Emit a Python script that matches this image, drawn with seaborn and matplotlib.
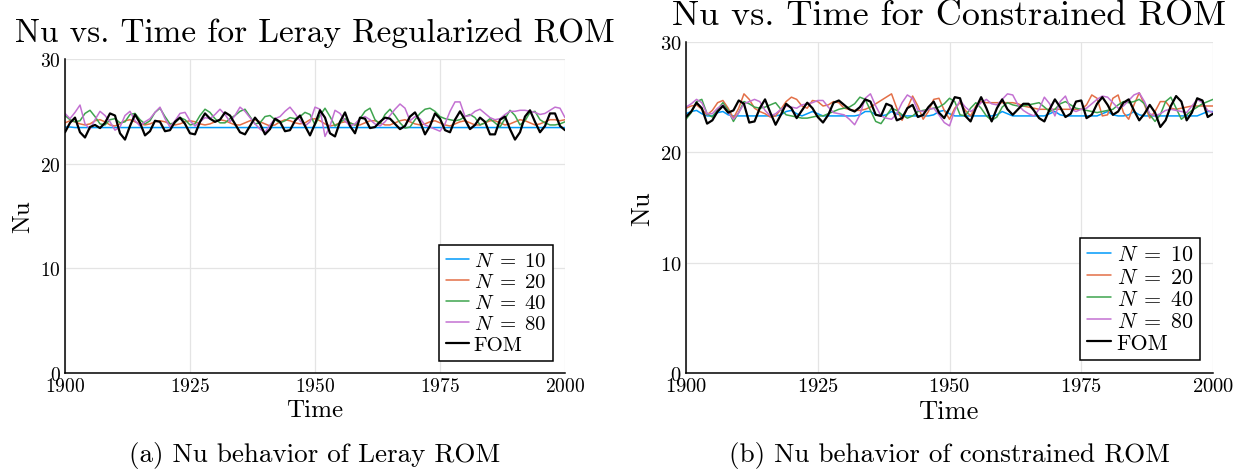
import matplotlib
matplotlib.use("Agg")
import matplotlib.pyplot as plt
import seaborn as sns
import pandas as pd

time = list(range(1900, 2001))

# ---------------- Leray regularized ROM ----------------
leray_n10 = [23.5, 23.5, 23.45, 23.45, 23.45, 23.45, 23.45, 23.45, 23.45, 23.45,
             23.45, 23.45, 23.45, 23.45, 23.45, 23.45, 23.45, 23.45, 23.45, 23.45,
             23.45, 23.45, 23.45, 23.45, 23.45, 23.45, 23.45, 23.45, 23.45, 23.45,
             23.45, 23.45, 23.45, 23.45, 23.45, 23.45, 23.45, 23.45, 23.45, 23.45,
             23.45, 23.45, 23.45, 23.45, 23.45, 23.45, 23.45, 23.45, 23.45, 23.45,
             23.45, 23.45, 23.45, 23.45, 23.45, 23.45, 23.45, 23.45, 23.45, 23.45,
             23.45, 23.45, 23.45, 23.45, 23.45, 23.45, 23.45, 23.45, 23.45, 23.45,
             23.45, 23.45, 23.45, 23.45, 23.45, 23.45, 23.45, 23.45, 23.45, 23.45,
             23.45, 23.45, 23.45, 23.45, 23.45, 23.45, 23.45, 23.45, 23.45, 23.45,
             23.45, 23.45, 23.45, 23.45, 23.45, 23.45, 23.45, 23.45, 23.45, 23.45,
             23.45]
leray_n20 = [23.9, 24.1, 24.0, 23.8, 23.7, 23.8, 24.1, 24.2, 24.0, 23.7,
             23.6, 23.8, 24.1, 24.2, 24.0, 23.8, 23.7, 23.8, 24.0, 24.1,
             24.0, 23.8, 23.7, 23.8, 24.0, 24.1, 24.0, 23.8, 23.7, 23.8,
             24.0, 24.2, 24.1, 23.9, 23.7, 23.7, 23.9, 24.1, 24.2, 24.0,
             23.8, 23.6, 23.7, 24.0, 24.2, 24.1, 23.9, 23.8, 23.9, 24.2,
             24.3, 24.1, 23.8, 23.6, 23.7, 23.9, 24.0, 23.9, 23.7, 23.7,
             23.9, 24.1, 24.1, 23.9, 23.7, 23.7, 23.9, 24.1, 24.2, 24.0,
             23.8, 23.7, 23.8, 24.0, 24.1, 23.9, 23.7, 23.6, 23.8, 24.0,
             24.1, 23.9, 23.7, 23.7, 23.9, 24.1, 24.1, 23.9, 23.7, 23.8,
             24.0, 24.2, 24.1, 23.9, 23.7, 23.8, 24.0, 24.2, 24.2, 24.1,
             24.2]
leray_n40 = [24.6, 24.2, 24.0, 24.1, 24.8, 25.1, 24.5, 23.8, 23.7, 24.2,
             24.3, 23.9, 24.0, 24.7, 24.8, 24.2, 23.8, 24.1, 24.9, 25.3,
             24.5, 23.8, 23.9, 24.4, 24.2, 23.7, 23.8, 24.6, 25.2, 24.9,
             24.3, 23.9, 23.9, 24.3, 24.6, 25.0, 25.2, 24.5, 23.8, 23.9,
             24.5, 24.6, 24.2, 23.9, 24.1, 24.4, 24.3, 24.5, 24.9, 24.7,
             23.7, 24.6, 25.3, 24.5, 23.6, 23.9, 24.3, 23.9, 23.7, 24.3,
             25.0, 25.3, 24.2, 23.8, 24.7, 25.2, 24.6, 23.9, 23.4, 23.5,
             24.2, 24.8, 25.2, 25.3, 25.0, 24.5, 24.3, 24.2, 24.1, 24.2,
             24.5, 24.7, 24.4, 23.7, 23.9, 24.3, 23.9, 23.5, 24.3, 25.1,
             24.6, 23.7, 24.1, 24.9, 25.0, 24.2, 23.9, 23.7, 23.7, 23.8,
             24.0]
leray_n80 = [24.8, 24.3, 24.9, 25.6, 23.8, 23.3, 24.2, 25.0, 24.6, 24.0,
             23.2, 23.5, 24.6, 25.0, 24.1, 23.6, 24.0, 24.3, 24.9, 25.4,
             24.3, 23.5, 24.1, 24.8, 24.9, 24.1, 23.6, 24.0, 24.4, 24.3,
             24.7, 25.2, 24.7, 24.0, 24.6, 25.4, 25.0, 24.4, 23.8, 23.3,
             23.0, 23.7, 24.3, 24.5, 25.0, 25.4, 24.8, 24.1, 23.6, 24.0,
             25.4, 25.2, 22.6, 23.6, 25.1, 24.8, 24.1, 23.6, 23.8, 24.3,
             24.5, 24.2, 23.8, 23.6, 24.0, 24.6, 25.2, 25.7, 25.3, 24.1,
             24.5, 24.3, 23.7, 23.5, 23.3, 23.1, 23.8, 25.0, 25.9, 25.9,
             24.5, 24.6, 25.0, 25.2, 24.8, 24.4, 24.2, 24.3, 24.7, 25.0,
             25.0, 25.1, 25.1, 25.0, 24.9, 24.7, 24.8, 25.1, 25.4, 25.3,
             24.4]
leray_fom = [23.0, 23.9, 24.4, 23.0, 22.5, 23.5, 23.7, 23.4, 23.9, 24.8,
             24.6, 22.9, 22.3, 23.6, 24.7, 23.9, 22.7, 23.1, 24.1, 24.0,
             23.1, 23.2, 24.0, 24.4, 23.8, 22.9, 22.8, 24.0, 24.8, 24.3,
             24.0, 24.2, 24.9, 24.6, 23.8, 23.0, 22.8, 23.6, 24.4, 23.8,
             22.8, 23.3, 24.3, 24.0, 23.1, 23.2, 24.1, 24.6, 23.6, 22.7,
             23.8, 25.1, 24.4, 22.9, 22.6, 24.0, 24.9, 23.6, 22.9, 24.4,
             24.3, 23.4, 23.5, 24.0, 24.4, 24.3, 23.8, 23.3, 23.6, 24.5,
             24.9, 24.0, 22.8, 23.6, 24.8, 24.3, 23.2, 23.0, 24.2, 25.0,
             24.2, 23.3, 23.7, 24.4, 24.0, 22.8, 22.8, 24.2, 24.5, 23.3,
             22.3, 23.0, 24.5, 25.1, 24.0, 23.0, 23.6, 24.8, 24.8, 23.6,
             23.2]

# ---------------- Constrained ROM ----------------
constr_n10 = [23.5, 23.7, 23.8, 23.5, 23.3, 23.3, 23.6, 23.7, 23.4, 23.3,
              23.3, 23.3, 23.3, 23.3, 23.3, 23.3, 23.3, 23.3, 23.4, 23.7,
              23.8, 23.5, 23.3, 23.5, 23.7, 23.5, 23.3, 23.3, 23.3, 23.3,
              23.3, 23.3, 23.3, 23.4, 23.7, 23.7, 23.4, 23.3, 23.4, 23.7,
              23.5, 23.3, 23.3, 23.3, 23.3, 23.3, 23.3, 23.4, 23.7, 23.8,
              23.5, 23.3, 23.3, 23.3, 23.3, 23.3, 23.3, 23.3, 23.3, 23.4,
              23.7, 23.5, 23.3, 23.3, 23.3, 23.3, 23.3, 23.3, 23.3, 23.5,
              23.7, 23.4, 23.3, 23.3, 23.3, 23.3, 23.3, 23.3, 23.3, 23.5,
              23.7, 23.4, 23.3, 23.3, 23.4, 23.7, 23.4, 23.3, 23.3, 23.3,
              23.3, 23.3, 23.3, 23.3, 23.3, 23.3, 23.3, 23.3, 23.5, 23.7,
              23.7]
constr_n20 = [24.0, 24.2, 24.3, 23.9, 23.4, 23.8, 24.5, 24.7, 24.0, 23.1,
              24.0, 25.3, 24.8, 24.0, 23.7, 23.5, 23.2, 23.3, 23.9, 24.6,
              25.0, 24.8, 24.2, 24.0, 24.7, 24.6, 24.2, 24.3, 24.6, 24.5,
              24.0, 23.9, 23.8, 23.8, 23.9, 24.1, 24.4, 24.7, 25.0, 25.3,
              24.0, 22.9, 24.0, 25.1, 24.2, 23.0, 23.7, 24.8, 24.9, 23.8,
              23.0, 24.0, 24.5, 23.8, 23.3, 24.2, 24.6, 24.5, 24.5, 24.5,
              24.5, 24.5, 24.5, 24.4, 24.2, 24.1, 24.0, 23.9, 23.9, 23.9,
              23.9, 23.9, 23.9, 23.9, 23.9, 23.9, 24.3, 25.2, 24.9, 23.3,
              23.4, 24.9, 25.2, 23.6, 23.0, 24.3, 25.4, 24.3, 23.1, 23.7,
              24.6, 24.6, 24.0, 23.9, 24.0, 24.1, 24.2, 24.2, 24.2, 24.2,
              24.2]
constr_n40 = [23.0, 23.6, 24.6, 24.8, 23.5, 23.2, 23.9, 24.5, 23.8, 22.8,
              23.6, 24.6, 24.4, 24.1, 24.0, 24.1, 24.3, 24.5, 23.9, 23.4,
              23.3, 23.2, 23.1, 23.1, 23.2, 23.3, 23.3, 23.5, 23.7, 23.9,
              24.0, 24.1, 24.4, 25.0, 24.8, 23.8, 22.8, 22.6, 23.3, 24.0,
              23.8, 23.4, 23.1, 23.3, 23.7, 23.8, 23.9, 24.0, 24.1, 24.4,
              24.9, 24.6, 23.4, 23.3, 24.0, 24.5, 24.0, 23.3, 22.9, 23.2,
              24.1, 24.5, 24.3, 24.2, 24.2, 24.3, 24.4, 24.5, 24.1, 23.7,
              23.9, 24.4, 24.6, 24.3, 24.0, 23.9, 23.8, 23.7, 23.6, 23.7,
              23.8, 23.9, 24.3, 24.6, 24.5, 24.6, 24.8, 24.4, 23.4, 22.8,
              23.4, 24.6, 25.0, 24.0, 23.0, 23.4, 23.8, 24.1, 24.4, 24.6,
              24.8]
constr_n80 = [24.1, 24.4, 24.8, 24.5, 23.5, 23.5, 24.0, 24.3, 23.6, 23.0,
              23.6, 24.4, 24.6, 24.8, 24.6, 23.8, 23.3, 23.5, 23.9, 24.2,
              24.1, 24.0, 24.3, 24.4, 24.5, 24.7, 24.7, 24.1, 23.6, 23.5,
              23.4, 23.0, 22.5, 23.4, 24.9, 25.3, 24.2, 23.3, 23.1, 23.0,
              23.5, 24.5, 25.2, 24.9, 23.8, 23.7, 23.9, 24.0, 23.4, 22.7,
              22.4, 23.8, 24.7, 24.1, 23.7, 24.0, 24.5, 24.8, 24.4, 24.3,
              24.8, 25.3, 25.2, 24.3, 23.8, 23.5, 23.3, 23.9, 25.0, 24.4,
              23.3, 24.6, 25.1, 23.9, 23.7, 23.9, 24.0, 24.4, 24.8, 25.1,
              25.0, 24.5, 24.0, 24.2, 24.7, 25.2, 25.4, 24.6, 23.5, 23.3,
              23.5, 23.8, 23.9, 23.8, 23.7, 23.6, 24.2, 24.8, 24.5, 23.8,
              23.6]
constr_fom = [23.2, 23.7, 24.5, 24.0, 22.6, 22.9, 23.7, 24.2, 23.6, 23.8,
              24.7, 24.4, 22.7, 22.8, 24.0, 24.8, 23.6, 22.5, 23.4, 24.4,
              24.0, 23.1, 23.8, 24.5, 24.0, 23.2, 22.7, 23.4, 24.5, 24.7,
              24.3, 23.9, 23.7, 24.1, 24.8, 24.6, 23.4, 23.3, 24.4, 24.2,
              22.9, 23.1, 24.0, 24.3, 23.2, 23.4, 24.1, 24.6, 23.6, 23.1,
              24.0, 25.0, 24.9, 23.3, 22.8, 24.0, 25.0, 24.0, 22.8, 24.0,
              24.8, 23.9, 23.4, 23.9, 24.4, 24.4, 23.8, 23.1, 22.8, 23.9,
              24.8, 24.1, 23.2, 23.5, 24.6, 24.7, 23.1, 23.4, 24.4, 25.0,
              24.3, 23.4, 23.7, 24.5, 24.8, 23.8, 22.9, 23.5, 24.3, 23.6,
              22.3, 22.9, 24.2, 25.1, 24.6, 22.9, 23.6, 24.9, 24.7, 23.2,
              23.5]

series_labels = [r"$N\;=\;10$", r"$N\;=\;20$", r"$N\;=\;40$", r"$N\;=\;80$", "FOM"]
colors = ["#009AFA", "#E36F47", "#3EA44E", "#C371D2", "#000000"]
widths = [1.1, 1.1, 1.1, 1.1, 1.6]

titles = ["Nu vs. Time for Leray Regularized ROM", "Nu vs. Time for Constrained ROM"]
captions = ["(a) Nu behavior of Leray ROM", "(b) Nu behavior of constrained ROM"]
x_ticks = [1900, 1925, 1950, 1975, 2000]
y_ticks = [0, 10, 20, 30]

sns.set_style("white")
plt.rcParams["font.family"] = ["cmr10", "DejaVu Sans"]
plt.rcParams["mathtext.fontset"] = "cm"
plt.rcParams["axes.formatter.use_mathtext"] = True
plt.rcParams["axes.unicode_minus"] = False
plt.rcParams["text.color"] = "black"
plt.rcParams["axes.labelcolor"] = "black"
plt.rcParams["xtick.labelcolor"] = "black"
plt.rcParams["ytick.labelcolor"] = "black"
plt.rcParams["lines.solid_joinstyle"] = "round"
plt.rcParams["lines.solid_capstyle"] = "round"

W, H = 1250, 477
fig = plt.figure(figsize=(12.5, 4.77), dpi=100)
ax1 = fig.add_axes([65 / W, 1 - 374 / H, 500 / W, 314 / H])
ax2 = fig.add_axes([686 / W, 1 - 374 / H, 527 / W, 331 / H])

panels = [
    (ax1, [leray_n10, leray_n20, leray_n40, leray_n80, leray_fom], 1.0, 24),
    (ax2, [constr_n10, constr_n20, constr_n40, constr_n80, constr_fom], 1.06, 26),
]

for i, (ax, data, sc, title_fs) in enumerate(panels):
    for vals, lab, col, lw in zip(data, series_labels, colors, widths):
        df = pd.DataFrame({"Time": time, "Nu": vals})
        sns.lineplot(data=df, x="Time", y="Nu", ax=ax, color=col, linewidth=lw,
                     label=lab)
    ax.set_xlim(1900, 2000)
    ax.set_ylim(0, 30)
    ax.set_xticks(x_ticks)
    ax.set_yticks(y_ticks)
    ax.grid(True, color="#e4e4e4", linewidth=0.9)
    ax.set_axisbelow(True)
    for s in ["top", "right"]:
        ax.spines[s].set_visible(False)
    for s in ["left", "bottom"]:
        ax.spines[s].set_color("black")
        ax.spines[s].set_linewidth(1.1)
    ax.tick_params(axis="both", direction="in", length=4, width=0.8,
                   color="#888888", labelcolor="black", labelsize=14 * sc, pad=3)
    ax.set_xlabel("Time", fontsize=18 * sc, labelpad=3)
    ax.set_ylabel("Nu", fontsize=18 * sc, labelpad=4)
    ax.set_title(titles[i], fontsize=title_fs, pad=13, color="black")
    leg = ax.legend(loc="lower right", fontsize=15 * sc, frameon=True, fancybox=False,
                    edgecolor="black", framealpha=1, handlelength=1.1,
                    handletextpad=0.25, borderpad=0.3, labelspacing=0.12,
                    borderaxespad=0.6)
    leg.get_frame().set_linewidth(1.1)
    for t in leg.get_texts():
        t.set_color("black")
    fig.text((ax.get_position().x0 + ax.get_position().x1) / 2, 1 - 456 / H,
             captions[i], ha="center", va="center", fontsize=19.5)

fig.savefig("out.png", dpi=100)
